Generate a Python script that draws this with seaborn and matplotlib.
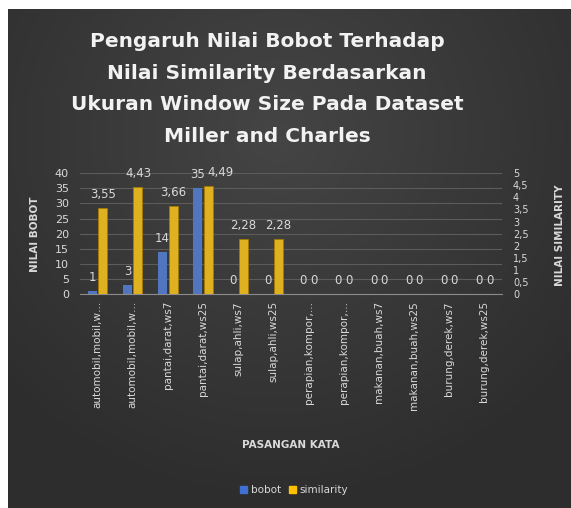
import numpy as np
import pandas as pd
import matplotlib.pyplot as plt
import seaborn as sns
from matplotlib.patches import Patch

# data
pasangan = ["automobil,mobil,w…", "automobil,mobil,w…", "pantai,darat,ws7", "pantai,darat,ws25",
            "sulap,ahli,ws7", "sulap,ahli,ws25", "perapian,kompor,…", "perapian,kompor,…",
            "makanan,buah,ws7", "makanan,buah,ws25", "burung,derek,ws7", "burung,derek,ws25"]
bobot = [1, 3, 14, 35, 0, 0, 0, 0, 0, 0, 0, 0]
similarity = [3.55, 4.43, 3.66, 4.49, 2.28, 2.28, 0, 0, 0, 0, 0, 0]
seri = ["bobot", "similarity"]
warna = ["#3F70D2", "#FFC000"]

# unique keys so repeated (truncated) labels stay separate slots
kunci = [f"k{i}" for i in range(len(pasangan))]

df = pd.DataFrame({
    "kunci": kunci * 2,
    "seri": ["bobot"] * len(kunci) + ["similarity"] * len(kunci),
    "nilai": bobot + similarity,
})
df_bobot = df.copy()
df_bobot.loc[df_bobot.seri == "similarity", "nilai"] = np.nan
df_sim = df.copy()
df_sim.loc[df_sim.seri == "bobot", "nilai"] = np.nan

sns.set_style("dark")
plt.rcParams['font.family'] = ['DejaVu Sans']

teks = "#d9d9d9"

fig = plt.figure(figsize=(5.71, 5.08), dpi=100)
fig.patch.set_facecolor("white")

# dark radial background
bg = fig.add_axes([8 / 571, 0, 1 - 8 / 571, 1 - 9 / 508])
yy, xx = np.mgrid[0:1:300j, 0:1:300j]
r = np.sqrt((xx - 0.48) ** 2 + ((yy - 0.25) * 0.9) ** 2)
val = 0.27 - 0.09 * np.clip(r / 0.65, 0, 1)
bg.imshow(np.dstack([val, val, val]), aspect="auto", extent=[0, 1, 0, 1], origin="upper")
bg.set_axis_off()

ax = fig.add_axes([0.140, 0.421, 0.739, 0.238])
ax.patch.set_alpha(0)
ax2 = ax.twinx()

sns.barplot(data=df_bobot, x="kunci", y="nilai", hue="seri", hue_order=seri, order=kunci,
            palette=warna, width=0.6, gap=0.15, errorbar=None, legend=False, ax=ax,
            linewidth=0)
sns.barplot(data=df_sim, x="kunci", y="nilai", hue="seri", hue_order=seri, order=kunci,
            palette=warna, width=0.6, gap=0.15, errorbar=None, legend=False, ax=ax2,
            edgecolor="#a37a00", linewidth=0.6)

ax.set_ylim(0, 40)
ax.set_yticks(np.arange(0, 41, 5))
ax2.set_ylim(0, 5)
ax2.set_yticks(np.arange(0, 5.01, 0.5))
ax2.set_yticklabels([f"{v:g}".replace(".", ",") for v in np.arange(0, 5.01, 0.5)])

for c in ax.containers:
    if len(c) == len(kunci):
        ax.bar_label(c, labels=[str(v) for v in bobot], padding=5, color=teks, fontsize=8.5)
for c in ax2.containers:
    if len(c) == len(kunci):
        lbl = ax2.bar_label(c, labels=[f"{v:g}".replace(".", ",") for v in similarity],
                            padding=5, color=teks, fontsize=8.5)
        # nudge the label that would sit on top of "35"
        lbl[3].xyann = (9, 5)

ax.set_xticks(range(len(kunci)))
ax.set_xticklabels(pasangan, rotation=90, color=teks, fontsize=7.5)
ax.set_xlabel("")
ax.set_ylabel("")
ax2.set_ylabel("")
ax.tick_params(axis="y", colors=teks, labelsize=8, length=0, pad=8)
ax.tick_params(axis="x", length=0, pad=5)
ax2.tick_params(axis="y", colors=teks, labelsize=7, length=0, pad=8)

ax.grid(axis="y", color="#5c5c5c", linewidth=0.8)
ax.set_axisbelow(True)
for a in (ax, ax2):
    for s in a.spines.values():
        s.set_visible(False)
ax.spines["bottom"].set_visible(True)
ax.spines["bottom"].set_color("#8c8c8c")
ax.set_xlim(-0.5, len(kunci) - 0.5)

fig.text(0.468, 0.825, "Pengaruh Nilai Bobot Terhadap\nNilai Similarity Berdasarkan\nUkuran Window Size Pada Dataset\nMiller and Charles",
         ha="center", va="center", fontsize=14.5, fontweight="bold", color="#f2f2f2", linespacing=1.85)
fig.text(35 / 571, 1 - 234 / 508, "NILAI BOBOT", rotation=90, ha="center", va="center",
         fontsize=7.5, fontweight="bold", color=teks)
fig.text(560 / 571, 1 - 235 / 508, "NILAI SIMILARITY", rotation=90, ha="center", va="center",
         fontsize=7.5, fontweight="bold", color=teks)
fig.text(0.51, 1 - 445 / 508, "PASANGAN KATA", ha="center", va="center",
         fontsize=7.5, fontweight="bold", color=teks)

handles = [Patch(color=w, label=s) for w, s in zip(warna, seri)]
leg = fig.legend(handles=handles, loc="center", bbox_to_anchor=(0.515, 1 - 490 / 508), ncol=2,
                 frameon=False, fontsize=7.5, handlelength=0.7, handleheight=0.7,
                 handletextpad=0.3, columnspacing=0.8)
for t in leg.get_texts():
    t.set_color(teks)

fig.savefig("out.png", dpi=100)
